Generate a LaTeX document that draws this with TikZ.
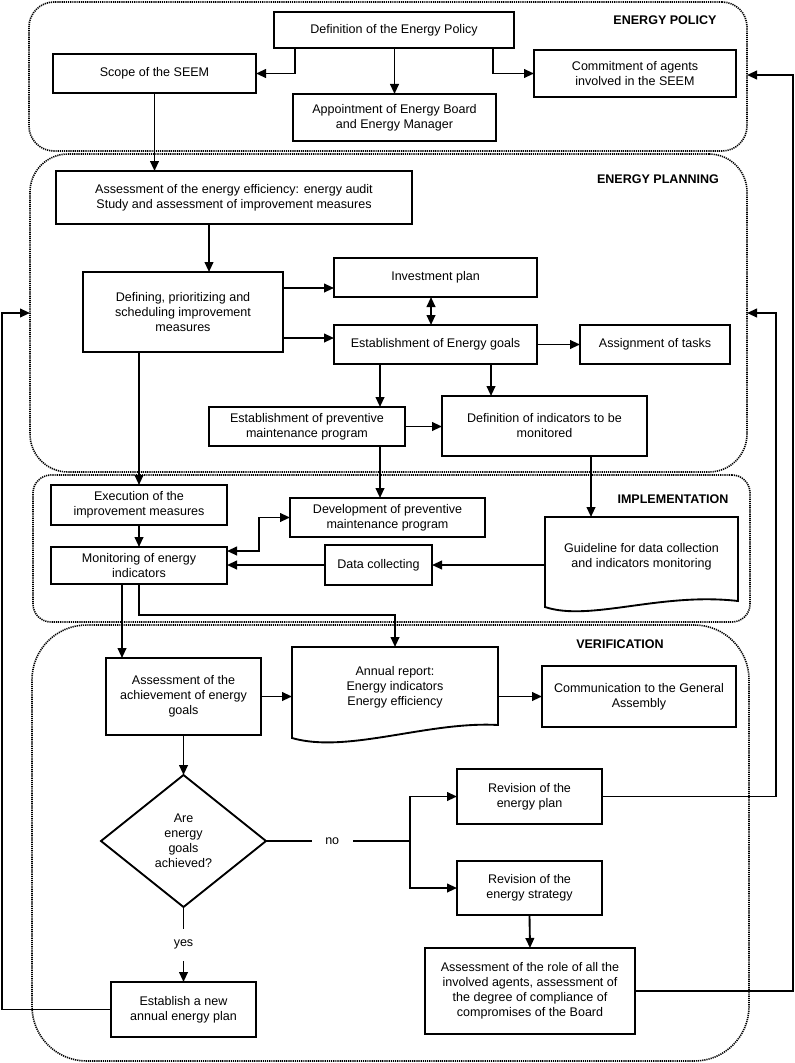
\documentclass[tikz,border=0pt]{standalone}
\usepackage{fontspec}
\setmainfont{Liberation Sans}
\usetikzlibrary{arrows.meta,calc}
\newcommand\mknode[7]{\node[#1, minimum width={(#5-#3)*0.75pt}, minimum height={(#6-#4)*0.75pt}] (#2) at ({(#3+#5)/2},{(#4+#6)/2}) {#7};}
\begin{document}
\begin{tikzpicture}[x=0.75pt,y=-0.75pt,
  font=\fontsize{9.4}{11.25}\selectfont,
  box/.style={draw, line width=1.4pt, rectangle, inner sep=0pt, outer sep=0pt, align=center},
  ghost/.style={rectangle, inner sep=0pt, outer sep=0pt, align=center},
  region/.style={draw, line width=1.2pt, dash pattern=on 0.9pt off 0.7pt, rectangle, inner sep=0pt, outer sep=0pt},
  arr/.style={line width=1.4pt, -{Triangle[length=7.5pt,width=6.5pt]}},
  darr/.style={line width=1.4pt, {Triangle[length=7.5pt,width=6.5pt]}-{Triangle[length=7.5pt,width=6.5pt]}},
  link/.style={line width=1.4pt},
  doc/.style={line width=1.4pt},
  sec/.style={font=\fontsize{9.4}{11.25}\selectfont\bfseries}]
\fill[white] (0,0) rectangle (795,1063);
\useasboundingbox (0,0) rectangle (795,1063);

% regions
\mknode{region, rounded corners=18.75pt}{policy}{29}{2}{747}{151}{}
\mknode{region, rounded corners=28.5pt}{planning}{30}{154}{747}{472}{}
\mknode{region, rounded corners=13.5pt}{implem}{33}{475}{750}{622}{}
\mknode{region, rounded corners=41pt}{verif}{32}{625}{749}{1061}{}

\node[sec] (lpol) at (665,20) {ENERGY POLICY};
\node[sec] (lplan) at (658,179) {ENERGY PLANNING};
\node[sec] (limp) at (673,499) {IMPLEMENTATION};
\node[sec] (lver) at (620,644) {VERIFICATION};

% energy policy
\mknode{box}{def}{274}{12}{514}{48}{Definition of the Energy Policy}
\mknode{box}{scope}{53}{54}{256}{93}{Scope of the SEEM}
\mknode{box}{appoint}{293}{94}{496}{141}{Appointment of Energy Board\\and Energy Manager}
\mknode{box}{commit}{534}{50}{736}{97}{Commitment of agents\\involved in the SEEM}
\draw[arr] ($(def.south west)+(21,0)$) |- (scope.east);
\draw[arr] (def.south -| appoint.north) -- (appoint.north);
\draw[arr] ($(def.south east)+(-21,0)$) |- (commit.west);

% energy planning
\mknode{box}{audit}{56}{171}{412}{224}{Assessment of the energy efficiency: energy audit\\Study and assessment of improvement measures}
\draw[arr] (scope.south) -- (scope.south |- audit.north);
\mknode{box}{define}{83}{272}{283}{352}{Defining, prioritizing and\\scheduling improvement\\measures}
\draw[arr] (audit.south -| 209,0) -- (define.north -| 209,0);
\mknode{box}{invest}{334}{258}{537}{297}{Investment plan}
\mknode{box}{goals}{334}{325}{537}{364}{Establishment of Energy goals}
\mknode{box}{tasks}{580}{325}{730}{364}{Assignment of tasks}
\mknode{box}{prevent}{209}{407}{405}{446}{Establishment of preventive\\maintenance program}
\mknode{box}{indic}{442}{396}{647}{456}{Definition of indicators to be\\monitored}
\draw[arr] (define.east |- 0,288) -- (invest.west |- 0,288);
\draw[arr] (define.east |- 0,338) -- (goals.west |- 0,338);
\draw[darr] (invest.south -| 431,0) -- (goals.north -| 431,0);
\draw[arr] (goals.east) -- (tasks.west);
\draw[arr] (goals.south -| 380,0) -- (prevent.north -| 380,0);
\draw[arr] (goals.south -| 491,0) -- (indic.north -| 491,0);
\draw[arr] (prevent.east) -- (indic.west |- prevent.east);

% implementation
\mknode{box}{exec}{51}{485}{227}{525}{Execution of the\\improvement measures}
\mknode{box}{monitor}{51}{547}{227}{584}{Monitoring of energy\\indicators}
\mknode{box}{develop}{290}{498}{485}{537}{Development of preventive\\maintenance program}
\mknode{box}{data}{325}{545}{432}{585}{Data collecting}
\mknode{ghost}{guide}{545}{517}{738}{597}{Guideline for data collection\\and indicators monitoring}
\draw[doc] ($(guide.south west)+(0,10)$) -- (guide.north west) -- (guide.north east) -- ($(guide.south east)+(0,4)$)
  .. controls ($(guide.south east)+(-78,-5)$) and ($(guide.south west)+(45,25)$) .. ($(guide.south west)+(0,10)$) -- cycle;
\draw[arr] (define.south -| 139,0) -- (exec.north -| 139,0);
\draw[arr] (prevent.south -| 380,0) -- (develop.north -| 380,0);
\draw[arr] (indic.south -| 591,0) -- (guide.north -| 591,0);
\draw[arr] (exec.south -| 139,0) -- (monitor.north -| 139,0);
\draw[darr] (develop.west) -| (259,551) -- (monitor.east |- 0,551);
\draw[arr] (data.west) -- (monitor.east |- data.west);
\draw[arr] (guide.west |- data.east) -- (data.east);

% verification
\mknode{box}{assess}{106}{658}{261}{735}{Assessment of the\\achievement of energy\\goals}
\mknode{ghost}{annual}{292}{647}{498}{727}{Annual report:\\Energy indicators\\Energy efficiency}
\draw[doc] ($(annual.south west)+(0,11)$) -- (annual.north west) -- (annual.north east) -- ($(annual.south east)+(0,-2)$)
  .. controls ($(annual.south east)+(-70,-6)$) and ($(annual.south west)+(55,27)$) .. ($(annual.south west)+(0,11)$) -- cycle;
\mknode{box}{comm}{542}{666}{736}{727}{Communication to the General\\Assembly}
\mknode{ghost}{dia}{101}{775}{266}{907}{Are\\energy\\goals\\achieved?}
\draw[doc] (dia.north) -- (dia.east) -- (dia.south) -- (dia.west) -- cycle;
\mknode{box}{revplan}{457}{769}{602}{824}{Revision of the\\energy plan}
\mknode{box}{revstrat}{457}{861}{602}{915}{Revision of the\\energy strategy}
\mknode{box}{role}{425}{948}{635}{1034}{Assessment of the role of all the\\involved agents, assessment of\\the degree of compliance of\\compromises of the Board}
\mknode{box}{newplan}{111}{982}{256}{1037}{Establish a new\\annual energy plan}

\coordinate (mr) at (395,615);
\draw[arr] (monitor.south -| 122,0) -- (assess.north -| 122,0);
\draw[arr] (monitor.south -| 139,0) |- (mr) -- (annual.north -| mr);
\draw[arr] (assess.east) -- (annual.west |- assess.east);
\draw[arr] (annual.east |- comm.west) -- (comm.west);
\draw[arr] (assess.south) -- (dia.north);

\coordinate (nojoin) at (410,841);
\draw[link] (dia.east) -- node[pos=0.46, fill=white, inner xsep=10pt, inner ysep=1pt] (no) {no} (nojoin);
\draw[arr] (nojoin) |- (revplan.west);
\draw[arr] (nojoin) |- (revstrat.west);
\draw[arr] (dia.south) -- node[fill=white, inner ysep=8.5pt, inner xsep=1pt] (yes) {yes} (newplan.north);
\draw[arr] (revstrat.south) -- (role.north);

% feedback loops
\coordinate (fbR) at (776,313);
\coordinate (fbP) at (793,75);
\coordinate (fbL) at (2,313);
\draw[arr] (revplan.east) -| (fbR) -- (planning.east);
\draw[arr] (role.east) -| (fbP) -- (policy.east |- fbP);
\draw[arr] (newplan.west) -| (fbL) -- (planning.west);
\end{tikzpicture}
\end{document}
